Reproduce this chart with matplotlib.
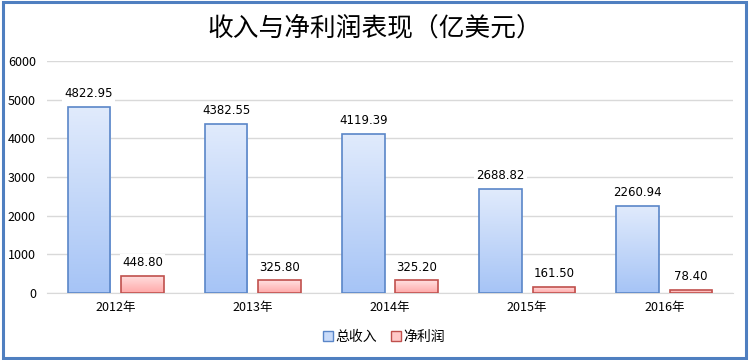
import matplotlib.pyplot as plt
import numpy as np
from matplotlib.patches import Rectangle
from matplotlib.colors import LinearSegmentedColormap

plt.rcParams['font.family'] = ['Noto Sans CJK SC', 'DejaVu Sans']

years = ['2012年', '2013年', '2014年', '2015年', '2016年']
revenue = [4822.95, 4382.55, 4119.39, 2688.82, 2260.94]
profit = [448.80, 325.80, 325.20, 161.50, 78.40]
yticks = [0, 1000, 2000, 3000, 4000, 5000, 6000]

fig = plt.figure(figsize=(7.5, 3.6), dpi=100)
ax = fig.add_axes([47 / 750, 1 - 293 / 360, 686 / 750, 232 / 360])

x = np.arange(len(years))
w = 0.31
off = 0.195

blue_cm = LinearSegmentedColormap.from_list('b', ['#a6c4f6', '#e1ebfc'])
red_cm = LinearSegmentedColormap.from_list('r', ['#ffa9a9', '#ffe0e0'])
grad = np.linspace(0, 1, 256).reshape(-1, 1)


def gradient_bars(xs, vals, cmap, edge):
    bars = ax.bar(xs, vals, width=w, facecolor='none', edgecolor=edge,
                  linewidth=1.2, zorder=3)
    for b in bars:
        x0, y0 = b.get_x(), b.get_y()
        bw, bh = b.get_width(), b.get_height()
        im = ax.imshow(grad, cmap=cmap, origin='lower', aspect='auto',
                       extent=[x0, x0 + bw, y0, y0 + bh], zorder=2)
        clip = Rectangle((x0, y0), bw, bh, transform=ax.transData)
        im.set_clip_path(clip)
    return bars


gradient_bars(x - off, revenue, blue_cm, '#5a86c8')
gradient_bars(x + off, profit, red_cm, '#c0504d')

for xs, vals in [(x - off, revenue), (x + off, profit)]:
    for xi, v in zip(xs, vals):
        ax.text(xi, v + 170, f'{v:.2f}', ha='center', va='bottom', fontsize=8.5,
                family='DejaVu Sans',
                bbox=dict(facecolor='white', edgecolor='none', pad=1.5), zorder=4)

ax.set_xlim(-0.5, len(years) - 0.5)
ax.set_ylim(0, 6000)
ax.set_yticks(yticks)
ax.set_xticks(x)
ax.set_xticklabels(years, fontsize=9)
ax.tick_params(axis='y', labelsize=9, length=0, pad=8)
ax.tick_params(axis='x', length=0, pad=6)
ax.yaxis.grid(True, color='#d9d9d9', linewidth=1, zorder=0)
ax.set_axisbelow(True)
for s in ['top', 'right', 'left']:
    ax.spines[s].set_visible(False)
ax.spines['bottom'].set_color('#d9d9d9')

fig.text(0.5, 1 - 28 / 360, '收入与净利润表现（亿美元）', ha='center', va='center',
         fontsize=18.5, fontweight='light')

handles = [Rectangle((0, 0), 1, 1, facecolor='#c9dbf9', edgecolor='#5a86c8'),
           Rectangle((0, 0), 1, 1, facecolor='#ffc8c8', edgecolor='#c0504d')]
fig.legend(handles, ['总收入', '净利润'], loc='center', ncol=2,
           bbox_to_anchor=(0.512, 1 - 337 / 360), frameon=False, fontsize=10,
           handlelength=0.7, handleheight=0.7, handletextpad=0.2,
           columnspacing=1.0)

fig.patches.append(Rectangle((0.004, 0.006), 0.991, 0.988, transform=fig.transFigure,
                             fill=False, edgecolor='#4f7fc0', linewidth=2.2))

fig.savefig('out.png', dpi=100)
